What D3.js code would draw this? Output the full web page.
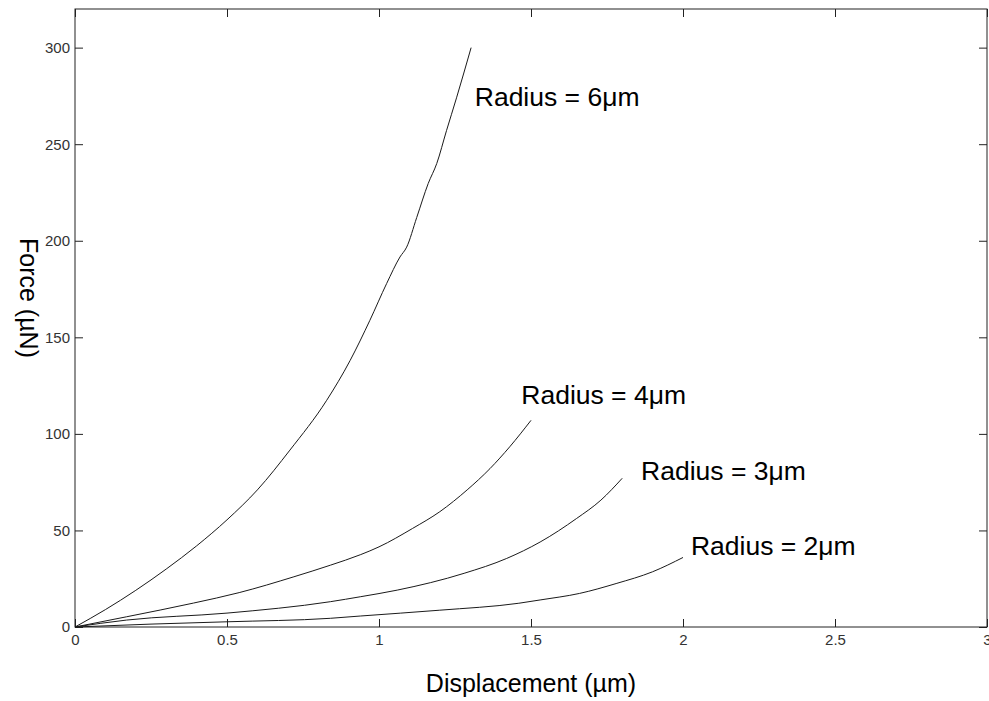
<!doctype HTML>
<html>
<head>
    <style>
        body { margin: 0; background: #fff; }
        text { font-family: "Liberation Sans", Arial, Helvetica, sans-serif; }
        .curve { fill: none; stroke: #1a1a1a; stroke-width: 1; }
    </style>
    <script src="https://d3js.org/d3.v7.min.js"></script>
</head>
<body>
<script>
    // values
    var radius6 = [[0,0],[0.1,9],[0.2,19],[0.3,30],[0.4,42],[0.5,55.5],[0.6,71],[0.707,91.6],
        [0.828,117.4],[0.905,138],[0.97,158.8],[1.025,177.8],[1.069,191.6],[1.091,196.7],
        [1.124,212],[1.162,229.7],[1.19,240],[1.222,257],[1.255,274],[1.303,300]];
    var radius4 = [[0,0],[0.17,5.3],[0.39,12.4],[0.54,17.8],[0.72,26],[0.84,32],[0.94,37.5],
        [1.0,41.5],[1.11,51],[1.2,59.7],[1.29,71],[1.365,82],[1.43,93.3],[1.5,107]];
    var radius3 = [[0,0],[0.17,3.6],[0.5,7.2],[0.84,13.1],[0.94,15.7],[1.06,19.1],[1.28,27.8],
        [1.42,35.5],[1.53,44],[1.65,56.2],[1.73,65.7],[1.8,77]];
    var radius2 = [[0,0],[0.25,1.5],[0.5,2.7],[0.84,4.5],[0.94,5.7],[1.2,8.7],[1.46,12.3],
        [1.53,14],[1.66,17.4],[1.78,22.5],[1.9,28.6],[2.0,36]];
    var seriesList = [radius6, radius4, radius3, radius2];

    var xTicks = [0, 0.5, 1, 1.5, 2, 2.5, 3];
    var yTicks = [0, 50, 100, 150, 200, 250, 300];

    // curve labels: text and anchor point in data units
    var labelText = ["Radius = 6\u03bcm", "Radius = 4\u03bcm", "Radius = 3\u03bcm", "Radius = 2\u03bcm"];
    var labelAt = [[1.315, 269.8], [1.468, 115.5], [1.862, 76.1], [2.026, 37.3]];

    var canvasWidth = 989;
    var canvasHeight = 701;
    var plotL = 75, plotT = 9, plotR = 987, plotB = 627;

    var svg = d3.select("body").append("svg")
        .attr("width", canvasWidth)
        .attr("height", canvasHeight);

    var xScale = d3.scaleLinear().domain([0, 3]).range([plotL, plotR]);
    var yScale = d3.scaleLinear().domain([0, 320]).range([plotB, plotT]);
    var tickLen = 8;

    // box
    svg.append("rect")
        .attr("x", plotL).attr("y", plotT)
        .attr("width", plotR - plotL).attr("height", plotB - plotT)
        .attr("fill", "none").attr("stroke", "#222").attr("stroke-width", 1);

    // axes with ticks pointing in, mirrored on top and right
    var xAxis = svg.append("g")
        .attr("transform", "translate(0," + plotB + ")")
        .call(d3.axisBottom(xScale).tickValues(xTicks).tickSizeInner(-tickLen).tickSizeOuter(0)
            .tickPadding(7).tickFormat(d3.format("")));
    var topAxis = svg.append("g")
        .attr("transform", "translate(0," + plotT + ")")
        .call(d3.axisTop(xScale).tickValues(xTicks).tickSizeInner(-tickLen).tickSizeOuter(0)
            .tickFormat(""));
    var yAxis = svg.append("g")
        .attr("transform", "translate(" + plotL + ",0)")
        .call(d3.axisLeft(yScale).tickValues(yTicks).tickSizeInner(-tickLen).tickSizeOuter(0)
            .tickPadding(5));
    var rightAxis = svg.append("g")
        .attr("transform", "translate(" + plotR + ",0)")
        .call(d3.axisRight(yScale).tickValues(yTicks).tickSizeInner(-tickLen).tickSizeOuter(0)
            .tickFormat(""));

    [xAxis, topAxis, yAxis, rightAxis].forEach(function(g) {
        g.select(".domain").remove();
        g.attr("font-family", "'Liberation Sans', Arial, sans-serif").attr("font-size", 15);
        g.selectAll(".tick line").attr("stroke", "#222");
        g.selectAll(".tick text").attr("fill", "#333");
    });

    // curves
    var line = d3.line()
        .x(function(d) { return xScale(d[0]); })
        .y(function(d) { return yScale(d[1]); })
        .curve(d3.curveMonotoneX);

    svg.selectAll(".curve")
        .data(seriesList)
        .enter().append("path")
        .attr("class", "curve")
        .attr("d", line);

    // curve labels
    svg.selectAll(".lbl")
        .data(labelText)
        .enter().append("text")
        .attr("class", "lbl")
        .attr("x", function(d, i) { return xScale(labelAt[i][0]); })
        .attr("y", function(d, i) { return yScale(labelAt[i][1]); })
        .attr("font-size", "26.5px")
        .attr("fill", "#000")
        .text(function(d) { return d; });

    // axis titles
    svg.append("text")
        .attr("x", 531)
        .attr("y", 692)
        .attr("text-anchor", "middle")
        .attr("font-size", "25px")
        .text("Displacement (\u00b5m)");

    svg.append("text")
        .attr("transform", "translate(20,298) rotate(90)")
        .attr("text-anchor", "middle")
        .attr("font-size", "25px")
        .text("Force (\u00b5N)");
</script>
</body>
</html>
